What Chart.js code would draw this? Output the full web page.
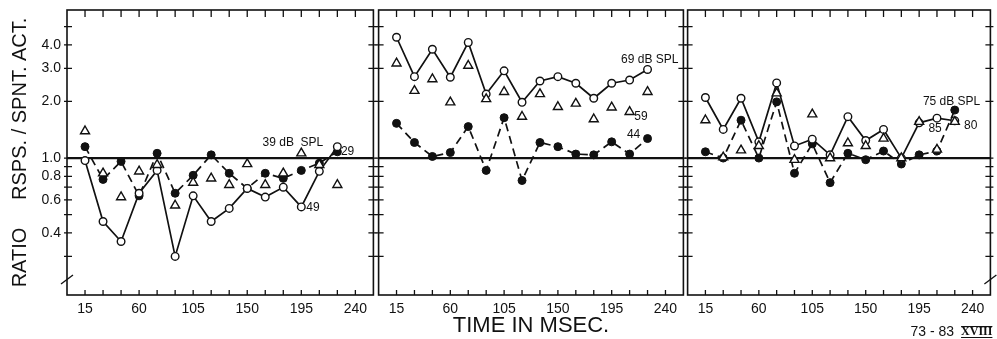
<!DOCTYPE html>
<html>
<head>
<meta charset="utf-8">
<script src="https://cdn.jsdelivr.net/npm/chart.js@4.4.0/dist/chart.umd.min.js"></script>
<style>
  body { margin: 0; background: #fff; }
  #wrap { position: relative; width: 997px; height: 339px; overflow: hidden; background: #fff; }
  #wrap canvas { position: absolute; top: 0; }
</style>
</head>
<body>
<div id="wrap">
  <canvas id="panelLeft" width="380" height="339" style="left:0px"></canvas>
  <canvas id="panelMiddle" width="318" height="339" style="left:372px"></canvas>
  <canvas id="panelRight" width="316" height="339" style="left:681px"></canvas>
</div>
<script>
// time bins (msec)
const times = [15, 30, 45, 60, 75, 90, 105, 120, 135, 150, 165, 180, 195, 210, 225];

// left panel
const leftOpen = [0.97, 0.46, 0.36, 0.65, 0.86, 0.30, 0.63, 0.46, 0.54, 0.69, 0.62, 0.70, 0.55, 0.85, 1.15];
const leftFilled = [1.15, 0.77, 0.96, 0.63, 1.06, 0.65, 0.81, 1.04, 0.83, 0.69, 0.83, 0.78, 0.86, 0.94, 1.08];
const leftTriangle = [1.39, 0.83, 0.62, 0.85, 0.92, 0.56, 0.74, 0.78, 0.72, 0.93, 0.72, 0.83, 1.06, 0.92, 0.72];

// middle panel
const middleOpen = [4.39, 2.71, 3.79, 2.69, 4.12, 2.19, 2.91, 1.98, 2.57, 2.71, 2.50, 2.08, 2.50, 2.60, 2.96];
const middleFilled = [1.53, 1.21, 1.02, 1.07, 1.47, 0.86, 1.64, 0.76, 1.21, 1.15, 1.05, 1.04, 1.22, 1.05, 1.27];
const middleTriangle = [3.19, 2.28, 2.63, 1.98, 3.10, 2.06, 2.25, 1.66, 2.19, 1.87, 1.95, 1.61, 1.86, 1.76, 2.25];

// right panel
const rightOpen = [2.10, 1.42, 2.08, 1.22, 2.51, 1.16, 1.26, 1.04, 1.66, 1.24, 1.42, 1.00, 1.54, 1.63, 1.58];
const rightFilled = [1.08, 1.00, 1.59, 1.00, 1.99, 0.83, 1.19, 0.74, 1.06, 0.98, 1.09, 0.93, 1.04, 1.09, 1.80];
const rightTriangle = [1.59, 1.01, 1.10, 1.16, 2.21, 0.98, 1.71, 1.00, 1.20, 1.16, 1.27, 1.00, 1.56, 1.11, 1.56];

// axes
const xLabelTimes = [15, 60, 105, 150, 195, 240];
const xTickTimes = [15, 30, 45, 60, 75, 90, 105, 120, 135, 150, 165, 180, 195, 210, 225, 240];
const yTickValues = [0.3, 0.4, 0.5, 0.6, 0.7, 0.8, 0.9, 1.0, 2.0, 3.0, 4.0, 5.0];
const yLabelValues = [0.4, 0.6, 0.8, 1.0, 2.0, 3.0, 4.0];

const INK = "#111";
const FONT = "'Liberation Sans', Arial, Helvetica, sans-serif";

const toPoints = (values) => values.map((v, i) => ({ x: times[i], y: v }));

const openSeries = (values) => ({
  data: toPoints(values),
  borderColor: INK,
  borderWidth: 1.7,
  pointStyle: "circle",
  pointRadius: 3.8,
  pointBackgroundColor: "#fff",
  pointBorderColor: INK,
  pointBorderWidth: 1.4,
  order: 1,
});

const filledSeries = (values) => ({
  data: toPoints(values),
  borderColor: INK,
  borderWidth: 1.7,
  borderDash: [8, 5],
  pointStyle: "circle",
  pointRadius: 4,
  pointBackgroundColor: INK,
  pointBorderColor: INK,
  pointBorderWidth: 1,
  order: 2,
});

const triangleSeries = (values) => ({
  data: toPoints(values),
  showLine: false,
  pointStyle: "triangle",
  pointRadius: 5.2,
  pointBackgroundColor: "#fff",
  pointBorderColor: INK,
  pointBorderWidth: 1.4,
  order: 0,
});

// frame, tick marks, 1.0 reference line and level notes
const panelFrame = {
  id: "panelFrame",
  beforeDatasetsDraw(chart) {
    const { ctx, chartArea: a, scales: { y } } = chart;
    const yOne = y.getPixelForValue(1);
    ctx.save();
    ctx.strokeStyle = INK;
    ctx.lineWidth = 2.4;
    ctx.beginPath();
    ctx.moveTo(a.left, yOne);
    ctx.lineTo(a.right, yOne);
    ctx.stroke();
    ctx.restore();
  },
  afterDraw(chart, args, opts) {
    const { ctx, chartArea: a, scales: { x, y } } = chart;
    ctx.save();
    ctx.strokeStyle = INK;
    ctx.lineWidth = 1.6;
    ctx.strokeRect(a.left, a.top, a.right - a.left, a.bottom - a.top);

    ctx.lineWidth = 1.3;
    ctx.beginPath();
    xTickTimes.forEach((t) => {
      const px = x.getPixelForValue(t);
      ctx.moveTo(px, a.top);
      ctx.lineTo(px, a.top + 7);
      ctx.moveTo(px, a.bottom);
      ctx.lineTo(px, a.bottom - 5);
    });
    yTickValues.forEach((v) => {
      const py = y.getPixelForValue(v);
      ctx.moveTo(a.left - 3, py);
      ctx.lineTo(a.left + 5, py);
      ctx.moveTo(a.right - 5, py);
      ctx.lineTo(a.right + 3, py);
    });
    ctx.stroke();

    // axis break marks
    (opts.breaks || []).forEach((side) => {
      const bx = side === "left" ? a.left : a.right;
      ctx.lineWidth = 1.3;
      ctx.beginPath();
      ctx.moveTo(bx - 6, 284);
      ctx.lineTo(bx + 6, 275);
      ctx.stroke();
    });

    ctx.fillStyle = INK;
    ctx.font = "12px " + FONT;
    ctx.textAlign = "center";
    ctx.textBaseline = "middle";
    (opts.notes || []).forEach((n) => {
      ctx.fillText(n.text, x.getPixelForValue(n.x), y.getPixelForValue(n.y));
    });

    if (opts.caption) {
      const cx = a.right + 2;
      const cy = 332;
      ctx.font = "bold 12px 'Liberation Serif', 'Times New Roman', serif";
      ctx.textAlign = "right";
      ctx.fillText("XVIII", cx, cy);
      const w = ctx.measureText("XVIII").width;
      ctx.lineWidth = 1;
      ctx.beginPath();
      ctx.moveTo(cx - w, cy - 5.5);
      ctx.lineTo(cx, cy - 5.5);
      ctx.moveTo(cx - w, cy + 5.5);
      ctx.lineTo(cx, cy + 5.5);
      ctx.stroke();
      ctx.font = "14px " + FONT;
      ctx.fillText("73 - 83", cx - w - 7, cy);
    }
    ctx.restore();
  },
};

const createChart = (id, datasets, panel) => {
  const ctx = document.getElementById(id).getContext("2d");
  return new Chart(ctx, {
    type: "line",
    data: { datasets },
    plugins: [panelFrame],
    options: {
      responsive: false,
      animation: false,
      devicePixelRatio: 1,
      layout: { padding: { top: 10, left: panel.padLeft, right: panel.padRight, bottom: 0 } },
      plugins: {
        legend: { display: false },
        tooltip: { enabled: false },
        panelFrame: { notes: panel.notes, breaks: panel.breaks, caption: panel.caption },
      },
      scales: {
        x: {
          type: "linear",
          min: 0,
          max: 255,
          grid: { display: false, drawTicks: false },
          border: { display: false },
          afterBuildTicks: (scale) => {
            scale.ticks = xLabelTimes.map((v) => ({ value: v }));
          },
          afterFit: (scale) => {
            scale.height = 44;
            scale.paddingLeft = 0;
            scale.paddingRight = 0;
          },
          ticks: {
            padding: 6,
            maxRotation: 0,
            autoSkip: false,
            color: INK,
            font: { family: FONT, size: 14 },
            callback: (v) => String(v),
          },
          title: {
            display: !!panel.xTitle,
            text: panel.xTitle || "",
            color: INK,
            font: { family: FONT, size: 22 },
            padding: { top: 0, bottom: 0 },
          },
        },
        y: {
          type: "logarithmic",
          display: panel.showY,
          min: 0.187,
          max: 6.13,
          grid: { display: false, drawTicks: false },
          border: { display: false },
          afterBuildTicks: (scale) => {
            scale.ticks = yTickValues.map((v) => ({ value: v }));
          },
          afterFit: (scale) => {
            scale.width = panel.showY ? 67 : 0;
            scale.paddingTop = 0;
            scale.paddingBottom = 0;
          },
          ticks: {
            padding: 6,
            autoSkip: false,
            color: INK,
            font: { family: FONT, size: 14 },
            callback: (v) => (yLabelValues.includes(v) ? v.toFixed(1) : ""),
          },
          title: {
            display: panel.showY,
            text: "RATIO     RSPS. / SPNT. ACT.",
            color: INK,
            font: { family: FONT, size: 20 },
            padding: { top: 8, bottom: 0 },
          },
        },
      },
    },
  });
};

createChart(
  "panelLeft",
  [openSeries(leftOpen), filledSeries(leftFilled), triangleSeries(leftTriangle)],
  {
    showY: true,
    padLeft: 0,
    padRight: 4,
    breaks: ["left"],
    notes: [
      { text: "39 dB  SPL", x: 188, y: 1.21 },
      { text: "29", x: 233.5, y: 1.076 },
      { text: "49", x: 204.7, y: 0.542 },
    ],
  }
);

createChart(
  "panelMiddle",
  [openSeries(middleOpen), filledSeries(middleFilled), triangleSeries(middleTriangle)],
  {
    showY: false,
    padLeft: 4,
    padRight: 5,
    xTitle: "TIME IN MSEC.",
    notes: [
      { text: "69 dB SPL", x: 226.9, y: 3.32 },
      { text: "59", x: 219.5, y: 1.66 },
      { text: "44", x: 213.3, y: 1.33 },
    ],
  }
);

createChart(
  "panelRight",
  [openSeries(rightOpen), filledSeries(rightFilled), triangleSeries(rightTriangle)],
  {
    showY: false,
    padLeft: 4,
    padRight: 4,
    breaks: ["right"],
    caption: true,
    notes: [
      { text: "75 dB SPL", x: 222.3, y: 1.99 },
      { text: "85", x: 208.4, y: 1.44 },
      { text: "80", x: 238.4, y: 1.48 },
    ],
  }
);
</script>
</body>
</html>
